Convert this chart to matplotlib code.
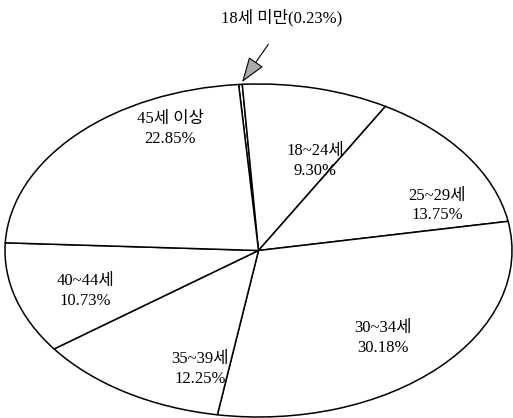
import numpy as np
import matplotlib
matplotlib.use('Agg')
import matplotlib.pyplot as plt

# 연령대별 비율 (%)
ages = ['18세 미만', '18~24세', '25~29세', '30~34세', '35~39세', '40~44세', '45세 이상']
shares = [0.23, 9.30, 13.75, 30.18, 12.25, 10.73, 22.85]

# label spots inside the stretched pie (data coords, pie radius = 1)
label_xy = [None, (0.223, 0.538), (0.704, 0.27), (0.491, -0.526),
            (-0.231, -0.712), (-0.684, -0.243), (-0.349, 0.730)]

FONT = ['Liberation Serif', 'Noto Sans CJK KR']

fig = plt.figure(figsize=(5.13, 4.18), dpi=100)
fig.patch.set_facecolor('white')
# ellipse spans x 5..512, y 84..417 px
ax = fig.add_axes([5 / 513, 1 / 418, 507 / 513, 333 / 418])

wedges, _ = ax.pie(shares, startangle=94.5, counterclock=False,
                   colors=['white'] * len(shares),
                   wedgeprops=dict(edgecolor='black', linewidth=1.1))
for w in wedges:
    w.set_clip_on(False)
ax.set_aspect('auto')
ax.set_xlim(-1, 1)
ax.set_ylim(-1, 1)
ax.axis('off')

for i in range(1, len(ages)):
    x, y = label_xy[i]
    ax.text(x, y, f'{ages[i]}\n{shares[i]:.2f}%', ha='center', va='center',
            fontsize=12, family=FONT, linespacing=1.3)

# tiny slice gets an outside label with arrow
w0 = wedges[0]
mid = np.deg2rad((w0.theta1 + w0.theta2) / 2)
tip = (np.cos(mid), np.sin(mid))
ax.annotate('', xy=tip, xytext=(0.045, 1.252), annotation_clip=False,
            arrowprops=dict(arrowstyle='-|>,head_length=1.6,head_width=0.55',
                            facecolor='#aaaaaa', edgecolor='black', lw=0.8))
ax.text(0.093, 1.396, f'{ages[0]}({shares[0]:.2f}%)', ha='center', va='center',
        fontsize=12, family=FONT, clip_on=False)

fig.savefig('out.png', dpi=100, facecolor='white')
